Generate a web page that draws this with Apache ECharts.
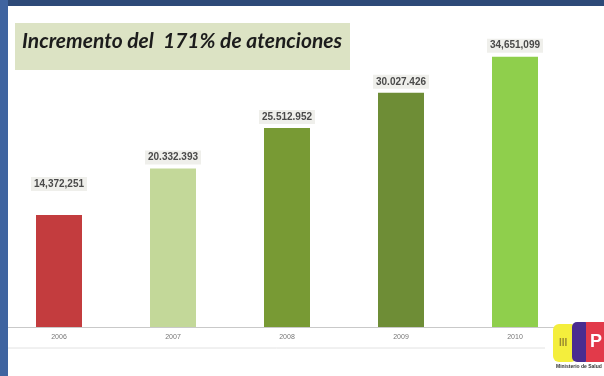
<!DOCTYPE html>
<html><head><meta charset="utf-8">
<script src="https://cdn.jsdelivr.net/npm/echarts@6/dist/echarts.min.js"></script>
<style>html,body{margin:0;padding:0;background:#fff}#c{width:604px;height:376px}</style>
</head><body><div id="c"></div>
<script>
const categories = ['2006', '2007', '2008', '2009', '2010'];
const values = [14372251, 20332393, 25512952, 30027426, 34651099];
const valueLabels = ['14,372,251', '20.332.393', '25.512.952', '30.027.426', '34,651,099'];
const barColors = ['#c33c3e', '#c3d899', '#789a34', '#6e8d36', '#8fcf4c'];
const titleText = 'Incremento del  171% de atenciones';

const chart = echarts.init(document.getElementById('c'), null, {renderer: 'canvas'});
chart.setOption({
  backgroundColor: '#ffffff',
  animation: false,
  grid: {left: 2, width: 570, top: 15, height: 312, containLabel: false},
  xAxis: {
    type: 'category', data: categories,
    axisLine: {show: true, lineStyle: {color: '#c9c9c9', width: 1}},
    axisTick: {show: false},
    axisLabel: {color: '#777', fontSize: 7, margin: 7, fontFamily: 'Liberation Sans'}
  },
  yAxis: {type: 'value', min: 0, max: 40000000, show: false, splitLine: {show: false}},
  series: [{
    type: 'bar', barWidth: 46,
    data: values.map((v, i) => ({
      value: v,
      itemStyle: {color: barColors[i]},
      label: {offset: [0, i === 0 ? -20 : 0]}
    })),
    label: {
      show: true, position: 'top', distance: 4,
      formatter: p => valueLabels[p.dataIndex],
      color: '#4a4a4a', fontSize: 10, fontWeight: 'bold', fontFamily: 'Liberation Sans',
      backgroundColor: '#efefeb', padding: [2, 3]
    }
  }],
  graphic: [
    {type: 'rect', shape: {x: 0, y: 0, width: 604, height: 6}, style: {fill: '#2d4a78'}, z: 10},
    {type: 'rect', shape: {x: 0, y: 0, width: 8, height: 376}, style: {fill: '#3f64a0'}, z: 10},
    {type: 'rect', shape: {x: 15, y: 23, width: 335, height: 47}, style: {fill: '#dce3c4'}, z: 5},
    {type: 'text', x: 22, y: 41, style: {text: titleText, fill: '#1c1c1c', font: 'italic bold 21px Lato', textVerticalAlign: 'middle'}, z: 6},
    {type: 'line', shape: {x1: 8, y1: 348, x2: 545, y2: 348}, style: {stroke: '#e2e2e2', lineWidth: 1}, z: 5},
    {type: 'rect', shape: {x: 553, y: 324, width: 24, height: 38, r: 6}, style: {fill: '#f4ee3c'}, z: 6},
    {type: 'rect', shape: {x: 572, y: 322, width: 18, height: 40, r: 5}, style: {fill: '#4a2c90'}, z: 7},
    {type: 'rect', shape: {x: 586, y: 322, width: 18, height: 40}, style: {fill: '#e23a4a'}, z: 8},
    {type: 'text', x: 590, y: 342, style: {text: 'P', fill: '#fff', font: 'bold 18px Liberation Sans', textVerticalAlign: 'middle'}, z: 9},
    {type: 'text', x: 559, y: 343, style: {text: 'III', fill: '#9a8a30', font: 'bold 10px Liberation Sans', textVerticalAlign: 'middle'}, z: 9},
    {type: 'text', x: 556, y: 367, style: {text: 'Ministerio de Salud', fill: '#333', font: 'bold 5px Liberation Sans', textVerticalAlign: 'middle'}, z: 9}
  ]
});
</script></body></html>
